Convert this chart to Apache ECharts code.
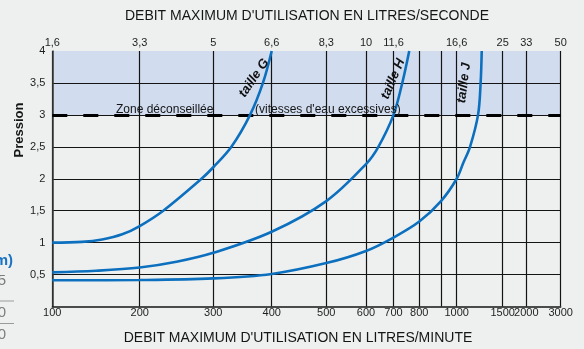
<!DOCTYPE html>
<html>
<head>
<meta charset="utf-8">
<script src="https://cdn.jsdelivr.net/npm/echarts@6/dist/echarts.min.js"></script>
<style>
  html, body { margin: 0; padding: 0; background: #eef0f0; }
  #chart { width: 584px; height: 349px; }
</style>
</head>
<body>
<div id="chart"></div>
<script>
// Flow scale (litres/minute): the ruled grid is not linear nor logarithmic,
// so each ruled flow value gets its own place along the axis.
const flowTicks     = [100, 200, 300, 400, 500, 600, 700, 800, 900, 1000, 1500, 2000, 3000];
const flowTickUnits = [0, 87.4, 161, 219.4, 274, 313.7, 341.2, 367, 388.7, 404.4, 450.4, 474, 508.4];
const flowLabels    = ['100', '200', '300', '400', '500', '600', '700', '800', '', '1000', '1500', '2000', '3000'];

// Same flows expressed in litres/second (top scale)
const secondFlows  = [100, 200, 300, 400, 500, 600, 700, 1000, 1500, 2000, 3000];
const secondLabels = ['1,6', '3,3', '5', '6,6', '8,3', '10', '11,6', '16,6', '25', '33', '50'];

// Pressure scale
const pressureLines  = [0.5, 1, 1.5, 2, 2.5, 3, 3.5];
const pressureLabels = [0.5, 1, 1.5, 2, 2.5, 3, 3.5, 4];
const pressureMax = 4;
const zoneLimit = 3;   // above this, water velocity is too high

// Curves: flow (l/min) and pressure for each meter size
const tailleGFlow  = [100, 134, 157, 180, 200, 232, 284, 300, 331, 363, 385, 400];
const tailleGPress = [1.0, 1.012, 1.05, 1.13, 1.26, 1.5, 2.0, 2.18, 2.5, 3.0, 3.5, 4.0];

const tailleHFlow  = [100, 150, 200, 250, 300, 400, 500, 600, 645, 700, 734, 761];
const tailleHPress = [0.535, 0.56, 0.61, 0.70, 0.84, 1.17, 1.65, 2.23, 2.5, 3.0, 3.5, 4.0];

const tailleJFlow  = [100, 200, 300, 400, 500, 600, 700, 800, 900, 1000, 1072, 1145, 1232, 1260, 1272];
const tailleJPress = [0.41, 0.415, 0.44, 0.51, 0.68, 0.87, 1.08, 1.33, 1.65, 2.0, 2.25, 2.5, 3.0, 3.5, 4.0];

// Piecewise-linear placement of a flow value on the ruled scale
function flowToUnit(f) {
  for (let i = 1; i < flowTicks.length; i++) {
    if (f <= flowTicks[i]) {
      const t = (f - flowTicks[i - 1]) / (flowTicks[i] - flowTicks[i - 1]);
      return flowTickUnits[i - 1] + t * (flowTickUnits[i] - flowTickUnits[i - 1]);
    }
  }
  return flowTickUnits[flowTickUnits.length - 1];
}
function nearestIndex(arr, v) {
  let best = 0;
  for (let i = 1; i < arr.length; i++) {
    if (Math.abs(arr[i] - v) < Math.abs(arr[best] - v)) best = i;
  }
  return best;
}
function pairs(flows, press) {
  return flows.map((f, i) => [flowToUnit(f), press[i]]);
}

const secondUnits = secondFlows.map(flowToUnit);
const unitMax = flowTickUnits[flowTickUnits.length - 1];

const FONT = "'Liberation Sans', Arial, Helvetica, sans-serif";
const BLUE = '#0d70bf';
const INK = '#141414';

const chart = echarts.init(document.getElementById('chart'), null, { renderer: 'canvas' });

const curveStyle = {
  type: 'line',
  smooth: 0.35,
  symbol: 'none',
  lineStyle: { color: BLUE, width: 2.6 },
  z: 5
};

chart.setOption({
  backgroundColor: '#eef0f0',
  animation: false,
  grid: { left: 52.3, right: 584 - 560.7, top: 51, height: 255.5 },
  xAxis: [
    {
      type: 'value',
      position: 'bottom',
      min: 0,
      max: unitMax,
      axisLine: { show: true, lineStyle: { color: INK, width: 1.5 } },
      axisTick: { show: false, customValues: flowTickUnits },
      splitLine: { show: true, lineStyle: { color: INK, width: 1.2 } },
      axisLabel: {
        customValues: flowTickUnits,
        margin: 1,
        color: '#1e1e1e',
        fontFamily: FONT,
        fontSize: 11,
        formatter: v => flowLabels[nearestIndex(flowTickUnits, v)]
      }
    },
    {
      type: 'value',
      position: 'top',
      min: 0,
      max: unitMax,
      axisLine: { show: false },
      axisTick: { show: false, customValues: secondUnits },
      splitLine: { show: false },
      axisLabel: {
        customValues: secondUnits,
        margin: 3,
        color: '#1e1e1e',
        fontFamily: FONT,
        fontSize: 11,
        formatter: v => secondLabels[nearestIndex(secondUnits, v)]
      }
    }
  ],
  yAxis: {
    type: 'value',
    min: 0,
    max: pressureMax,
    axisLine: { show: true, lineStyle: { color: '#3a3a3a', width: 1.5 } },
    axisTick: { show: false, customValues: pressureLines },
    splitLine: { show: true, lineStyle: { color: INK, width: 1.2 } },
    axisLabel: {
      customValues: pressureLabels,
      margin: 7,
      color: '#1e1e1e',
      fontFamily: FONT,
      fontSize: 11,
      formatter: v => String(v).replace('.', ',')
    }
  },
  series: [
    Object.assign({
      name: 'taille G',
      data: pairs(tailleGFlow, tailleGPress),
      markArea: {
        silent: true,
        itemStyle: { color: '#d1dcef' },
        data: [[{ yAxis: zoneLimit, xAxis: 0 }, { yAxis: pressureMax, xAxis: unitMax }]],
        z: -1
      },
      markLine: {
        silent: true,
        symbol: 'none',
        label: { show: false },
        lineStyle: { color: '#000', width: 3, type: [15, 16] },
        data: [{ yAxis: zoneLimit }]
      }
    }, curveStyle),
    Object.assign({ name: 'taille H', data: pairs(tailleHFlow, tailleHPress) }, curveStyle),
    Object.assign({ name: 'taille J', data: pairs(tailleJFlow, tailleJPress) }, curveStyle)
  ],
  graphic: [
    {
      type: 'text', x: 307, y: 16,
      style: { text: "DEBIT MAXIMUM D'UTILISATION EN LITRES/SECONDE", fill: '#151515',
               font: '14px ' + FONT, align: 'center', verticalAlign: 'middle' }
    },
    {
      type: 'text', x: 298, y: 338,
      style: { text: "DEBIT MAXIMUM D'UTILISATION EN LITRES/MINUTE", fill: '#151515',
               font: '14px ' + FONT, align: 'center', verticalAlign: 'middle' }
    },
    {
      type: 'text', x: 19, y: 130, rotation: Math.PI / 2,
      style: { text: 'Pression', fill: '#151515', font: 'bold 13px ' + FONT,
               align: 'center', verticalAlign: 'middle' }
    },
    {
      type: 'text', x: 116, y: 109.5, z: 10,
      style: { text: 'Zone déconseillée', fill: '#151515', font: '12px ' + FONT,
               align: 'left', verticalAlign: 'middle' }
    },
    {
      type: 'text', x: 255, y: 109.5, z: 10,
      style: { text: "(vitesses d'eau excessives)", fill: '#151515', font: '12px ' + FONT,
               align: 'left', verticalAlign: 'middle' }
    },
    {
      type: 'text', x: 254, y: 78, rotation: 56 * Math.PI / 180, z: 10,
      style: { text: 'taille G', fill: '#111', font: 'italic bold 13px ' + FONT,
               align: 'center', verticalAlign: 'middle' }
    },
    {
      type: 'text', x: 393, y: 79, rotation: 67 * Math.PI / 180, z: 10,
      style: { text: 'taille H', fill: '#111', font: 'italic bold 13px ' + FONT,
               align: 'center', verticalAlign: 'middle' }
    },
    {
      type: 'text', x: 464, y: 83, rotation: 83 * Math.PI / 180, z: 10,
      style: { text: 'taille J', fill: '#111', font: 'italic bold 13px ' + FONT,
               align: 'center', verticalAlign: 'middle' }
    },
    // neighbouring table column, cut by the page edge
    {
      type: 'text', x: 13, y: 261,
      style: { text: 'm)', fill: '#1a72c4', font: 'bold 15px ' + FONT,
               align: 'right', verticalAlign: 'middle' }
    },
    {
      type: 'text', x: 6, y: 281,
      style: { text: '5', fill: '#7c7c7c', font: '15px ' + FONT, align: 'right', verticalAlign: 'middle' }
    },
    {
      type: 'line', shape: { x1: 0, y1: 301, x2: 14, y2: 301 },
      style: { stroke: '#9a9a9a', lineWidth: 1 }
    },
    {
      type: 'text', x: 6, y: 313,
      style: { text: '0', fill: '#7c7c7c', font: '15px ' + FONT, align: 'right', verticalAlign: 'middle' }
    },
    {
      type: 'line', shape: { x1: 0, y1: 323.5, x2: 14, y2: 323.5 },
      style: { stroke: '#9a9a9a', lineWidth: 1 }
    },
    {
      type: 'text', x: 6, y: 335,
      style: { text: '0', fill: '#7c7c7c', font: '15px ' + FONT, align: 'right', verticalAlign: 'middle' }
    }
  ]
});
</script>
</body>
</html>
